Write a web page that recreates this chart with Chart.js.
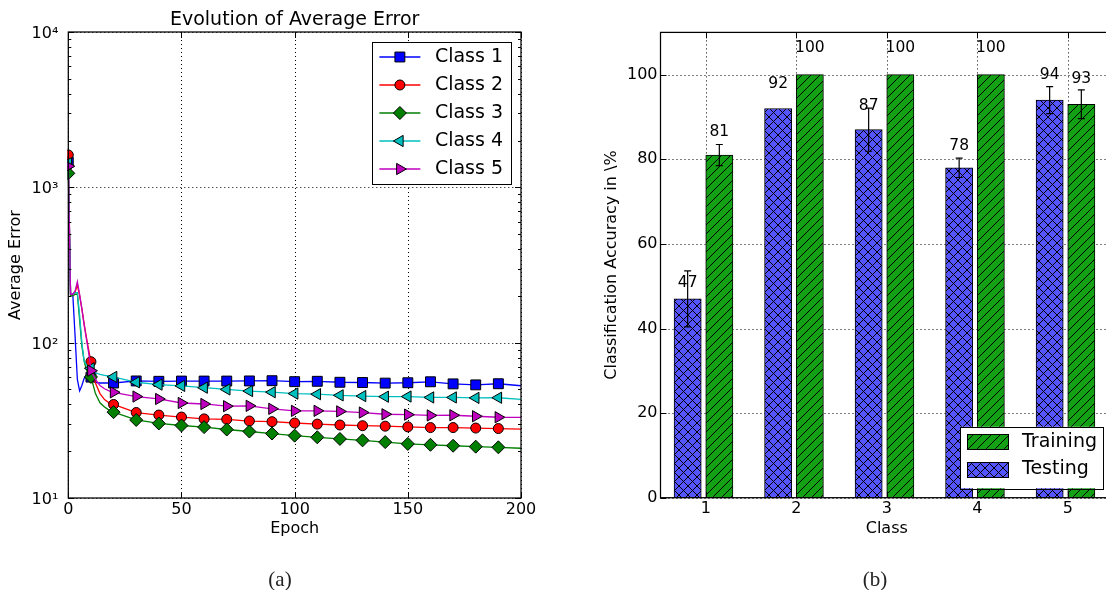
<!DOCTYPE html>
<html>
<head>
<meta charset="utf-8">
<title>Average error and classification accuracy</title>
<script src="https://cdn.jsdelivr.net/npm/chart.js@4.4.1/dist/chart.umd.min.js"></script>
<style>
  html, body { margin: 0; padding: 0; background: #fff; overflow: hidden; }
  #page { position: relative; width: 1106px; height: 590px; overflow: hidden; background: #fff; }
  canvas { position: absolute; top: 0; }
  #errorCanvas { left: 0; }
  #accCanvas { left: 553px; }
  .caption {
    position: absolute; top: 566px; width: 80px; text-align: center;
    font-family: "Liberation Serif", "DejaVu Serif", serif; font-size: 21px; line-height: 26px; color: #222;
  }
</style>
</head>
<body>
<div id="page">
  <canvas id="errorCanvas" width="553" height="590"></canvas>
  <canvas id="accCanvas" width="607" height="590"></canvas>
  <div class="caption" style="left:240px">(a)</div>
  <div class="caption" style="left:835px">(b)</div>
</div>
<script>
// ---------------- data: average error per epoch ----------------
const epochs = [0, 1, 2, 3, 4, 5, 6, 7, 8, 9, 10, 12, 14, 16, 18, 20, 30, 40, 50, 60, 70, 80, 90,
                100, 110, 120, 130, 140, 150, 160, 170, 180, 190, 200];
const errClass1 = [1450, 203, 203, 110, 58, 49, 53, 59, 62, 61.5, 60, 55.5, 55, 55, 55, 55, 56.7, 56.4, 56.6,
                   56.6, 56.6, 56.7, 56.9, 56.1, 56.4, 55.6, 55.4, 54.9, 55.2, 56.0, 54.3, 53.5, 54.4, 52.8];
const errClass2 = [1616, 205, 205, 212, 235, 200, 165, 132, 108, 90, 75.4, 55, 47, 43, 41, 40, 35.5, 34.2, 33.2,
                   32.3, 32.1, 31.3, 31.0, 30.4, 29.9, 29.5, 29.2, 29.0, 28.7, 28.4, 28.4, 28.2, 28.0, 27.8];
const errClass3 = [1231, 200, 200, 205, 205, 140, 95, 76, 67, 62.5, 60.2, 47, 41, 38.5, 36.8, 35.7, 31.8, 30.2, 29.3,
                   28.6, 27.6, 26.8, 26.0, 25.2, 24.6, 24.0, 23.5, 22.9, 22.3, 22.0, 21.7, 21.4, 21.2, 20.9];
const errClass4 = [1429, 205, 205, 210, 210, 150, 100, 76, 72, 70, 68.4, 64, 62.5, 61.5, 61, 60.2, 55.6, 53.7, 52.7,
                   51.3, 50.0, 48.8, 48.0, 47.0, 46.6, 45.8, 45.3, 44.9, 45.0, 44.4, 44.4, 44.1, 44.2, 43.2];
const errClass5 = [1368, 205, 205, 215, 247, 205, 165, 130, 106, 86, 66, 58, 53, 50.5, 49, 47.9, 45, 43.4, 40.9,
                   40.3, 39.0, 39.2, 37.5, 36.4, 36.4, 36.1, 35.5, 34.6, 34.4, 34.0, 34.1, 33.6, 33.1, 33.0];
const epochTicks = [0, 50, 100, 150, 200];
const errorTickValues = [10, 100, 1000, 10000];
const errorTickLabels = ['10\u00B9', '10\u00B2', '10\u00B3', '10\u2074'];

// ---------------- data: classification accuracy ----------------
const classes = [1, 2, 3, 4, 5];
const testingAcc = [47, 92, 87, 78, 94];
const testingStd = [6.6, 0, 5.1, 2.3, 3.2];
const trainingAcc = [81, 100, 100, 100, 93];
const trainingStd = [2.5, 0, 0, 0, 3.4];
const accuracyTicks = [0, 20, 40, 60, 80, 100];

// ---------------- shared helpers ----------------
const FONT = '"DejaVu Sans", "Liberation Sans", sans-serif';
Chart.defaults.font.family = FONT;
Chart.defaults.color = '#000';

const crisp = v => Math.round(v) + 0.5;

function drawLabel(ctx, text, x, y, size, opts = {}) {
  ctx.save();
  ctx.font = `${size}px ${FONT}`;
  ctx.fillStyle = '#000';
  ctx.textAlign = opts.align || 'center';
  ctx.textBaseline = opts.baseline || 'middle';
  ctx.translate(x, y);
  if (opts.rotate) ctx.rotate(opts.rotate);
  ctx.fillText(text, 0, 0);
  ctx.restore();
}

// hatched fill: '/' lines, optionally crossed with '\' lines
function hatch(fill, crossed) {
  const n = 9;
  const tile = document.createElement('canvas');
  tile.width = tile.height = n;
  const g = tile.getContext('2d');
  g.fillStyle = fill;
  g.fillRect(0, 0, n, n);
  g.strokeStyle = '#000';
  g.lineWidth = 1;
  g.beginPath();
  g.moveTo(-1, n + 1); g.lineTo(n + 1, -1);
  g.moveTo(-1, 1); g.lineTo(1, -1);
  g.moveTo(n - 1, n + 1); g.lineTo(n + 1, n - 1);
  if (crossed) {
    g.moveTo(-1, -1); g.lineTo(n + 1, n + 1);
    g.moveTo(n - 1, -1); g.lineTo(n + 1, 1);
    g.moveTo(-1, n - 1); g.lineTo(1, n + 1);
  }
  g.stroke();
  return g.createPattern(tile, 'repeat');
}

function drawMarker(ctx, style, x, y) {
  ctx.save();
  ctx.fillStyle = style.color;
  ctx.strokeStyle = '#000';
  ctx.lineWidth = 1;
  Chart.helpers.drawPoint(ctx, {
    pointStyle: style.marker, rotation: style.rotation || 0, radius: style.radius, borderWidth: 1
  }, x, y);
  ctx.restore();
}

// dotted grid below the data, frame and inward tick marks above it
function axesDecor(opts) {
  return {
    id: 'axesDecor',
    beforeDatasetsDraw(chart) {
      const {ctx, chartArea: a, scales: {x, y}} = chart;
      ctx.save();
      ctx.strokeStyle = '#000';
      ctx.lineWidth = 1;
      ctx.setLineDash([1, 3]);
      ctx.beginPath();
      opts.xGrid.forEach(v => {
        const px = crisp(x.getPixelForValue(v));
        ctx.moveTo(px, a.top); ctx.lineTo(px, a.bottom);
      });
      opts.yGrid.forEach(v => {
        const py = crisp(y.getPixelForValue(v));
        ctx.moveTo(a.left, py); ctx.lineTo(a.right, py);
      });
      ctx.stroke();
      ctx.restore();
    },
    afterDatasetsDraw(chart) {
      const {ctx, chartArea: a, scales: {x, y}} = chart;
      const major = 6, minor = 3;
      ctx.save();
      ctx.strokeStyle = '#000';
      ctx.lineWidth = 1;
      ctx.beginPath();
      opts.xGrid.forEach(v => {
        const px = crisp(x.getPixelForValue(v));
        ctx.moveTo(px, a.top); ctx.lineTo(px, a.top + major);
        ctx.moveTo(px, a.bottom); ctx.lineTo(px, a.bottom - major);
      });
      opts.yGrid.forEach(v => {
        const py = crisp(y.getPixelForValue(v));
        ctx.moveTo(a.left, py); ctx.lineTo(a.left + major, py);
        ctx.moveTo(a.right, py); ctx.lineTo(a.right - major, py);
      });
      (opts.yMinor || []).forEach(v => {
        const py = crisp(y.getPixelForValue(v));
        ctx.moveTo(a.left, py); ctx.lineTo(a.left + minor, py);
        ctx.moveTo(a.right, py); ctx.lineTo(a.right - minor, py);
      });
      ctx.stroke();
      ctx.lineWidth = 1.25;
      ctx.strokeRect(a.left, a.top, a.right - a.left, a.bottom - a.top);
      ctx.restore();
    },
    afterDraw(chart) {
      opts.annotate(chart);
    }
  };
}

// ---------------- (a) evolution of average error ----------------
const lineSeries = [
  {label: 'Class 1', values: errClass1, color: '#0000ff', marker: 'rect', radius: 7},
  {label: 'Class 2', values: errClass2, color: '#ff0000', marker: 'circle', radius: 5},
  {label: 'Class 3', values: errClass3, color: '#007f00', marker: 'rectRot', radius: 6.5},
  {label: 'Class 4', values: errClass4, color: '#00bfbf', marker: 'triangle', radius: 6.5, rotation: -90},
  {label: 'Class 5', values: errClass5, color: '#bf00bf', marker: 'triangle', radius: 6.5, rotation: 90}
];

const errorMinorTicks = [];
errorTickValues.slice(0, -1).forEach(d => { for (let m = 2; m <= 9; m++) errorMinorTicks.push(m * d); });

function annotateError(chart) {
  const {ctx, chartArea: a} = chart;
  const cx = (a.left + a.right) / 2, cy = (a.top + a.bottom) / 2;
  drawLabel(ctx, 'Evolution of Average Error', cx, 25, 19, {baseline: 'alphabetic'});
  drawLabel(ctx, 'Epoch', cx, 529, 16);
  drawLabel(ctx, 'Average Error', 16, cy, 16, {rotate: -Math.PI / 2});

  // legend, upper right
  ctx.save();
  ctx.font = `19px ${FONT}`;
  const textW = Math.max(...lineSeries.map(s => ctx.measureText(s.label).width));
  const rowH = 28;
  const w = 62.5 + textW + 8;
  const h = 15 + rowH * (lineSeries.length - 1) + 14.6;
  const right = a.right - 10, top = a.top + 10, left = right - w;
  ctx.fillStyle = '#fff';
  ctx.fillRect(left, top, w, h);
  ctx.strokeStyle = '#000';
  ctx.lineWidth = 1;
  ctx.strokeRect(crisp(left), crisp(top), Math.round(w), Math.round(h));
  lineSeries.forEach((s, i) => {
    const ry = top + 15 + i * rowH;
    ctx.strokeStyle = s.color;
    ctx.lineWidth = 1.3;
    ctx.beginPath();
    ctx.moveTo(left + 7, ry); ctx.lineTo(left + 48, ry);
    ctx.stroke();
    drawMarker(ctx, s, left + 27.5, ry);
    ctx.fillStyle = '#000';
    ctx.textAlign = 'left';
    ctx.textBaseline = 'middle';
    ctx.fillText(s.label, left + 62.5, ry);
  });
  ctx.restore();
}

new Chart(document.getElementById('errorCanvas'), {
  type: 'line',
  data: {
    datasets: lineSeries.map((s, i) => ({
      label: s.label,
      data: epochs.map((e, j) => ({x: e, y: s.values[j]})),
      borderColor: s.color,
      backgroundColor: s.color,
      borderWidth: 1.3,
      tension: 0,
      fill: false,
      clip: 1,
      pointStyle: s.marker,
      pointRotation: s.rotation || 0,
      pointBackgroundColor: s.color,
      pointBorderColor: '#000',
      pointBorderWidth: 1,
      pointRadius: c => (epochs[c.dataIndex] % 10 === 0 && epochs[c.dataIndex] < 200 ? s.radius : 0),
      pointHoverRadius: c => (epochs[c.dataIndex] % 10 === 0 && epochs[c.dataIndex] < 200 ? s.radius : 0),
      order: lineSeries.length - 1 - i
    }))
  },
  options: {
    responsive: false,
    animation: false,
    devicePixelRatio: 1,
    events: [],
    layout: {padding: {left: 0, right: 32, top: 32, bottom: 0}},
    plugins: {legend: {display: false}, tooltip: {enabled: false}, title: {display: false}},
    scales: {
      x: {
        type: 'linear', min: 0, max: 200, offset: false,
        afterBuildTicks: s => { s.ticks = epochTicks.map(v => ({value: v})); },
        afterFit: s => { s.height = 92; },
        ticks: {padding: 2, maxRotation: 0, autoSkip: false, font: {size: 16}, color: '#000'},
        grid: {display: false, drawTicks: false},
        border: {display: false}
      },
      y: {
        type: 'logarithmic', min: 10, max: 10000,
        afterBuildTicks: s => { s.ticks = errorTickValues.map(v => ({value: v})); },
        afterFit: s => { s.width = 68.3; },
        ticks: {
          padding: 10, labelOffset: 2, autoSkip: false, font: {size: 16}, color: '#000',
          callback: v => errorTickLabels[errorTickValues.indexOf(v)] || ''
        },
        grid: {display: false, drawTicks: false},
        border: {display: false}
      }
    }
  },
  plugins: [axesDecor({xGrid: epochTicks, yGrid: errorTickValues, yMinor: errorMinorTicks, annotate: annotateError})]
});

// ---------------- (b) classification accuracy ----------------
const testingFill = hatch('#5555ff', true);
const trainingFill = hatch('#14a014', false);
const TESTING_SHIFT = -0.2;   // bar centres relative to the class tick
const TRAINING_SHIFT = 0.15;

const barSeries = [
  {label: 'Testing', values: testingAcc, errors: testingStd, fill: testingFill, shift: TESTING_SHIFT},
  {label: 'Training', values: trainingAcc, errors: trainingStd, fill: trainingFill, shift: TRAINING_SHIFT}
];

function annotateAccuracy(chart) {
  const {ctx, chartArea: a, scales: {y}} = chart;
  const cy = (a.top + a.bottom) / 2;

  // error bars and value labels
  ctx.save();
  chart.data.datasets.forEach((ds, di) => {
    const meta = chart.getDatasetMeta(di);
    meta.data.forEach((bar, i) => {
      const v = ds.data[i].y;
      const e = barSeries[di].errors[i];
      if (e > 0) {
        const x = bar.x, y1 = y.getPixelForValue(v + e), y2 = y.getPixelForValue(v - e);
        ctx.strokeStyle = '#000';
        ctx.lineWidth = 1.2;
        ctx.beginPath();
        ctx.moveTo(x, y1); ctx.lineTo(x, y2);
        ctx.moveTo(x - 3.5, y1); ctx.lineTo(x + 3.5, y1);
        ctx.moveTo(x - 3.5, y2); ctx.lineTo(x + 3.5, y2);
        ctx.stroke();
      }
      drawLabel(ctx, String(v), bar.x, y.getPixelForValue(v * 1.05) - 1.5, 15.5, {baseline: 'alphabetic'});
    });
  });
  ctx.restore();

  drawLabel(ctx, 'Class', (a.left + a.right) / 2, 529, 16);
  drawLabel(ctx, 'Classification Accuracy in \\%', 58.7, cy, 16, {rotate: -Math.PI / 2});

  // legend, lower right (training listed first)
  const entries = barSeries.slice().reverse();
  ctx.save();
  ctx.font = `19px ${FONT}`;
  const textW = Math.max(...entries.map(s => ctx.measureText(s.label).width));
  const rowH = 27.7;
  const w = 61.7 + textW + 6;
  const h = 15 + rowH * (entries.length - 1) + 18.8;
  const right = a.right - 10, bottom = a.bottom - 9.4;
  const left = right - w, top = bottom - h;
  ctx.fillStyle = '#fff';
  ctx.fillRect(left, top, w, h);
  ctx.strokeStyle = '#000';
  ctx.lineWidth = 1;
  ctx.strokeRect(crisp(left), crisp(top), Math.round(w), Math.round(h));
  entries.forEach((s, i) => {
    const ry = top + 15 + i * rowH;
    ctx.fillStyle = s.fill;
    ctx.fillRect(left + 6.7, ry - 7.5, 41, 15);
    ctx.strokeStyle = '#000';
    ctx.lineWidth = 1;
    ctx.strokeRect(Math.round(left + 6.7) + 0.5, Math.round(ry - 7.5) + 0.5, 41, 15);
    ctx.fillStyle = '#000';
    ctx.textAlign = 'left';
    ctx.textBaseline = 'middle';
    ctx.fillText(s.label, left + 61.7, ry);
  });
  ctx.restore();
}

new Chart(document.getElementById('accCanvas'), {
  type: 'bar',
  data: {
    datasets: barSeries.map(s => ({
      label: s.label,
      data: classes.map((c, i) => ({x: c + s.shift, y: s.values[i]})),
      backgroundColor: s.fill,
      borderColor: '#000',
      borderWidth: 1,
      borderSkipped: false,
      barThickness: 27.2,
      grouped: false
    }))
  },
  options: {
    responsive: false,
    animation: false,
    devicePixelRatio: 1,
    events: [],
    layout: {padding: {left: 0, right: 47, top: 32.4, bottom: 0}},
    plugins: {legend: {display: false}, tooltip: {enabled: false}, title: {display: false}},
    scales: {
      x: {
        type: 'linear', min: 0.5, max: 5.5, offset: false,
        afterBuildTicks: s => { s.ticks = classes.map(v => ({value: v})); },
        afterFit: s => { s.height = 92.3; },
        ticks: {padding: 2, maxRotation: 0, autoSkip: false, font: {size: 16}, color: '#000'},
        grid: {display: false, drawTicks: false, offset: false},
        border: {display: false}
      },
      y: {
        type: 'linear', min: 0, max: 110,
        afterBuildTicks: s => { s.ticks = accuracyTicks.map(v => ({value: v})); },
        afterFit: s => { s.width = 107.5; },
        ticks: {padding: 3, autoSkip: false, font: {size: 16}, color: '#000'},
        grid: {display: false, drawTicks: false},
        border: {display: false}
      }
    }
  },
  plugins: [axesDecor({xGrid: classes, yGrid: accuracyTicks, annotate: annotateAccuracy})]
});
</script>
</body>
</html>
